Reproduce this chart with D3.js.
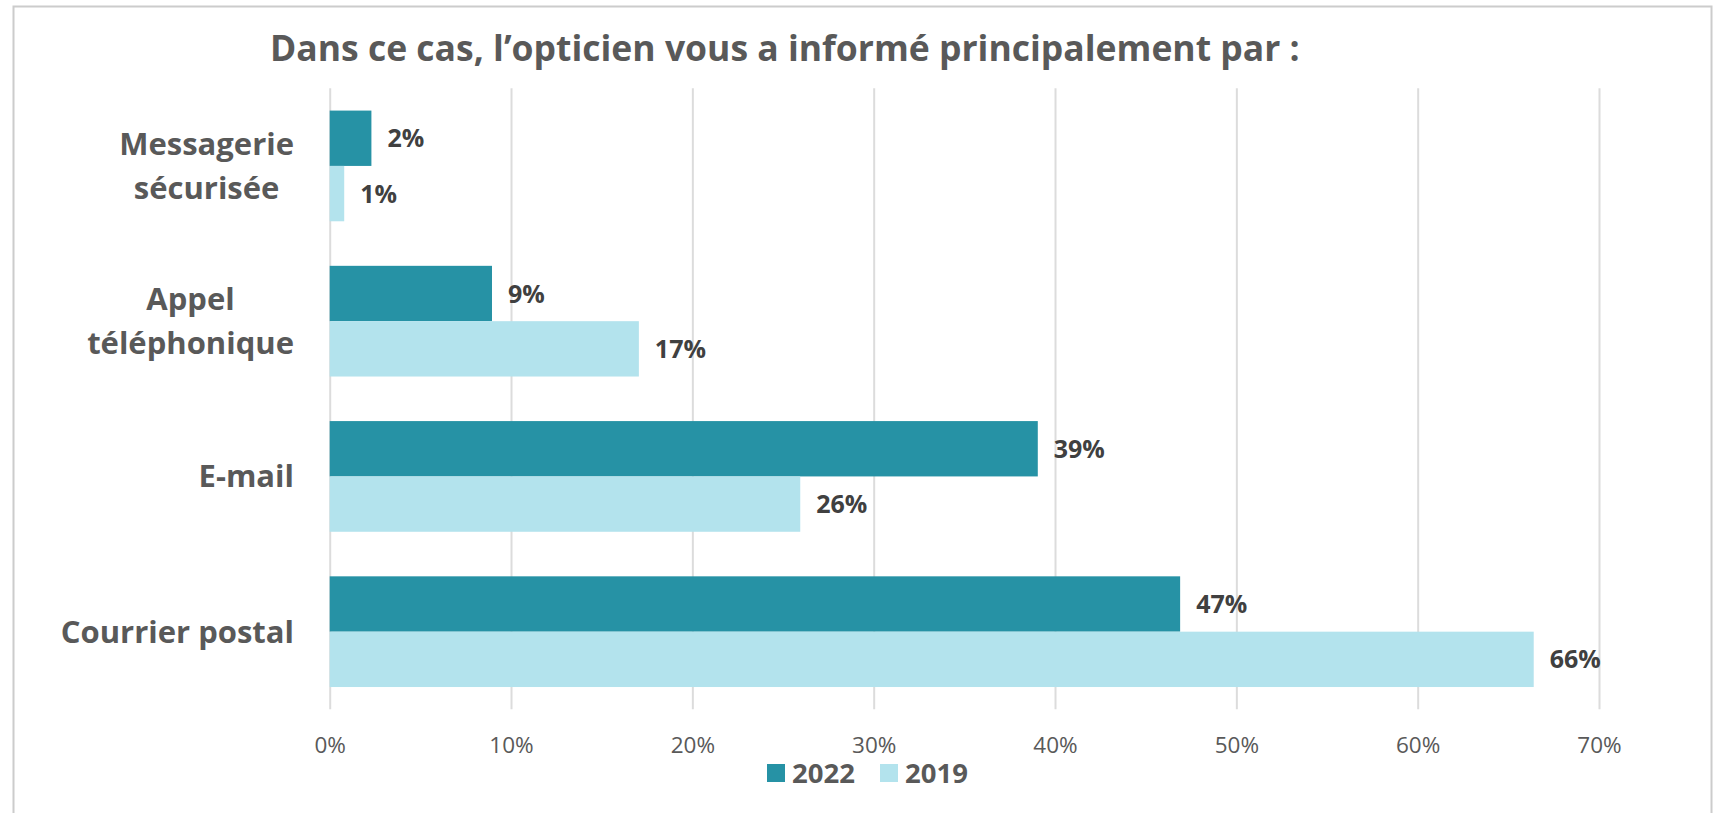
<!DOCTYPE html>
<html>
<head>
<meta charset="utf-8">
<script src="https://cdn.jsdelivr.net/npm/d3@7"></script>
<style>
  html, body { margin: 0; padding: 0; background: #fff; }
  svg { display: block; }
</style>
</head>
<body>
<div id="viz"></div>
<script>
// values (percent)
const categories = ["Messagerie sécurisée", "Appel téléphonique", "E-mail", "Courrier postal"];
const categoryLines = [["Messagerie", "sécurisée"], ["Appel", "téléphonique"], ["E-mail"], ["Courrier postal"]];
const seriesNames = ["2022", "2019"];
const values2022 = [2.3, 8.95, 39.05, 46.9];
const values2019 = [0.8, 17.05, 25.95, 66.4];
const xTicks = [0, 10, 20, 30, 40, 50, 60, 70];
const title = "Dans ce cas, l’opticien vous a informé principalement par :";

const config = {
  svgWidth: 1721,
  svgHeight: 813,
  plotLeft: 329.7,
  plotRight: 1599,
  plotTop: 88.3,
  plotBottom: 709.3,
  colors: { "2022": "#2692a5", "2019": "#b3e3ed" },
  textColor: "#595959",
  valueColor: "#404040",
  gridColor: "#dcdcdc",
  font: "'Open Sans', sans-serif",
  labelRight: 294,
  lineHeight: 44,
};

const rows = categories.map((c, i) => ({
  category: c,
  lines: categoryLines[i],
  "2022": values2022[i],
  "2019": values2019[i],
}));

const createSvg = () => {
  const svg = d3
    .select("#viz")
    .append("svg")
    .attr("width", config.svgWidth)
    .attr("height", config.svgHeight);

  // outer frame
  svg
    .append("rect")
    .attr("x", 13.5)
    .attr("y", 6.5)
    .attr("width", 1698)
    .attr("height", 830)
    .attr("fill", "#fff")
    .attr("stroke", "#cccccc")
    .attr("stroke-width", 2);

  return svg;
};

const x = d3.scaleLinear().domain([0, 70]).range([config.plotLeft, config.plotRight]);

const y = d3
  .scaleBand()
  .domain(categories)
  .range([config.plotTop, config.plotBottom])
  .paddingInner(0.287)
  .paddingOuter(0.1435);

const ySub = d3.scaleBand().domain(seriesNames).range([0, y.bandwidth()]);

const drawTitle = (svg) => {
  svg
    .append("text")
    .attr("x", 270)
    .attr("y", 61)
    .attr("font-family", config.font)
    .attr("font-weight", "bold")
    .attr("font-size", 35.5)
    .attr("fill", config.textColor)
    .text(title);
};

const drawGrid = (svg) => {
  const axis = d3
    .axisBottom(x)
    .tickValues(xTicks)
    .tickSize(-(config.plotBottom - config.plotTop))
    .tickFormat((d) => d + "%");

  const g = svg
    .append("g")
    .attr("transform", `translate(0,${config.plotBottom})`)
    .call(axis);

  g.select(".domain").remove();
  g.selectAll(".tick line").attr("stroke", config.gridColor).attr("stroke-width", 2);
  g.selectAll(".tick text")
    .attr("font-family", config.font)
    .attr("font-size", 22.5)
    .attr("fill", config.textColor)
    .attr("dy", 0)
    .attr("y", 44);
};

const drawBars = (svg) => {
  const groups = svg
    .selectAll("g.cat")
    .data(rows)
    .join("g")
    .attr("class", "cat")
    .attr("transform", (d) => `translate(0,${y(d.category)})`);

  groups
    .selectAll("rect")
    .data((d) => seriesNames.map((s) => ({ key: s, value: d[s] })))
    .join("rect")
    .attr("x", x(0))
    .attr("y", (d) => ySub(d.key))
    .attr("width", (d) => x(d.value) - x(0))
    .attr("height", ySub.bandwidth())
    .attr("fill", (d) => config.colors[d.key]);

  groups
    .selectAll("text.value")
    .data((d) => seriesNames.map((s) => ({ key: s, value: d[s] })))
    .join("text")
    .attr("class", "value")
    .attr("x", (d) => x(d.value) + 16)
    .attr("y", (d) => ySub(d.key) + ySub.bandwidth() / 2)
    .attr("dy", "0.36em")
    .attr("font-family", config.font)
    .attr("font-weight", "bold")
    .attr("font-size", 25)
    .attr("fill", config.valueColor)
    .text((d) => Math.round(d.value) + "%");
};

const drawCategoryLabels = (svg) => {
  rows.forEach((d) => {
    const cy = y(d.category) + y.bandwidth() / 2;
    const g = svg.append("g");
    const texts = d.lines.map((line, i) =>
      g
        .append("text")
        .attr("y", cy - ((d.lines.length - 1) * config.lineHeight) / 2 + i * config.lineHeight + 11)
        .attr("text-anchor", "middle")
        .attr("font-family", config.font)
        .attr("font-weight", "bold")
        .attr("font-size", 31)
        .attr("fill", config.textColor)
        .text(line)
    );
    // block is right aligned, lines centered inside it
    const maxW = d3.max(texts, (t) => t.node().getComputedTextLength());
    texts.forEach((t) => t.attr("x", config.labelRight - maxW / 2));
  });
};

const drawLegend = (svg) => {
  const items = [
    { key: "2022", x: 767 },
    { key: "2019", x: 880 },
  ];
  items.forEach((it) => {
    svg
      .append("rect")
      .attr("x", it.x)
      .attr("y", 764)
      .attr("width", 18)
      .attr("height", 18)
      .attr("fill", config.colors[it.key]);
    svg
      .append("text")
      .attr("x", it.x + 25)
      .attr("y", 783)
      .attr("font-family", config.font)
      .attr("font-weight", "bold")
      .attr("font-size", 27.5)
      .attr("fill", config.textColor)
      .text(it.key);
  });
};

const svg = createSvg();
drawTitle(svg);
drawGrid(svg);
drawBars(svg);
drawCategoryLabels(svg);
drawLegend(svg);
</script>
</body>
</html>
